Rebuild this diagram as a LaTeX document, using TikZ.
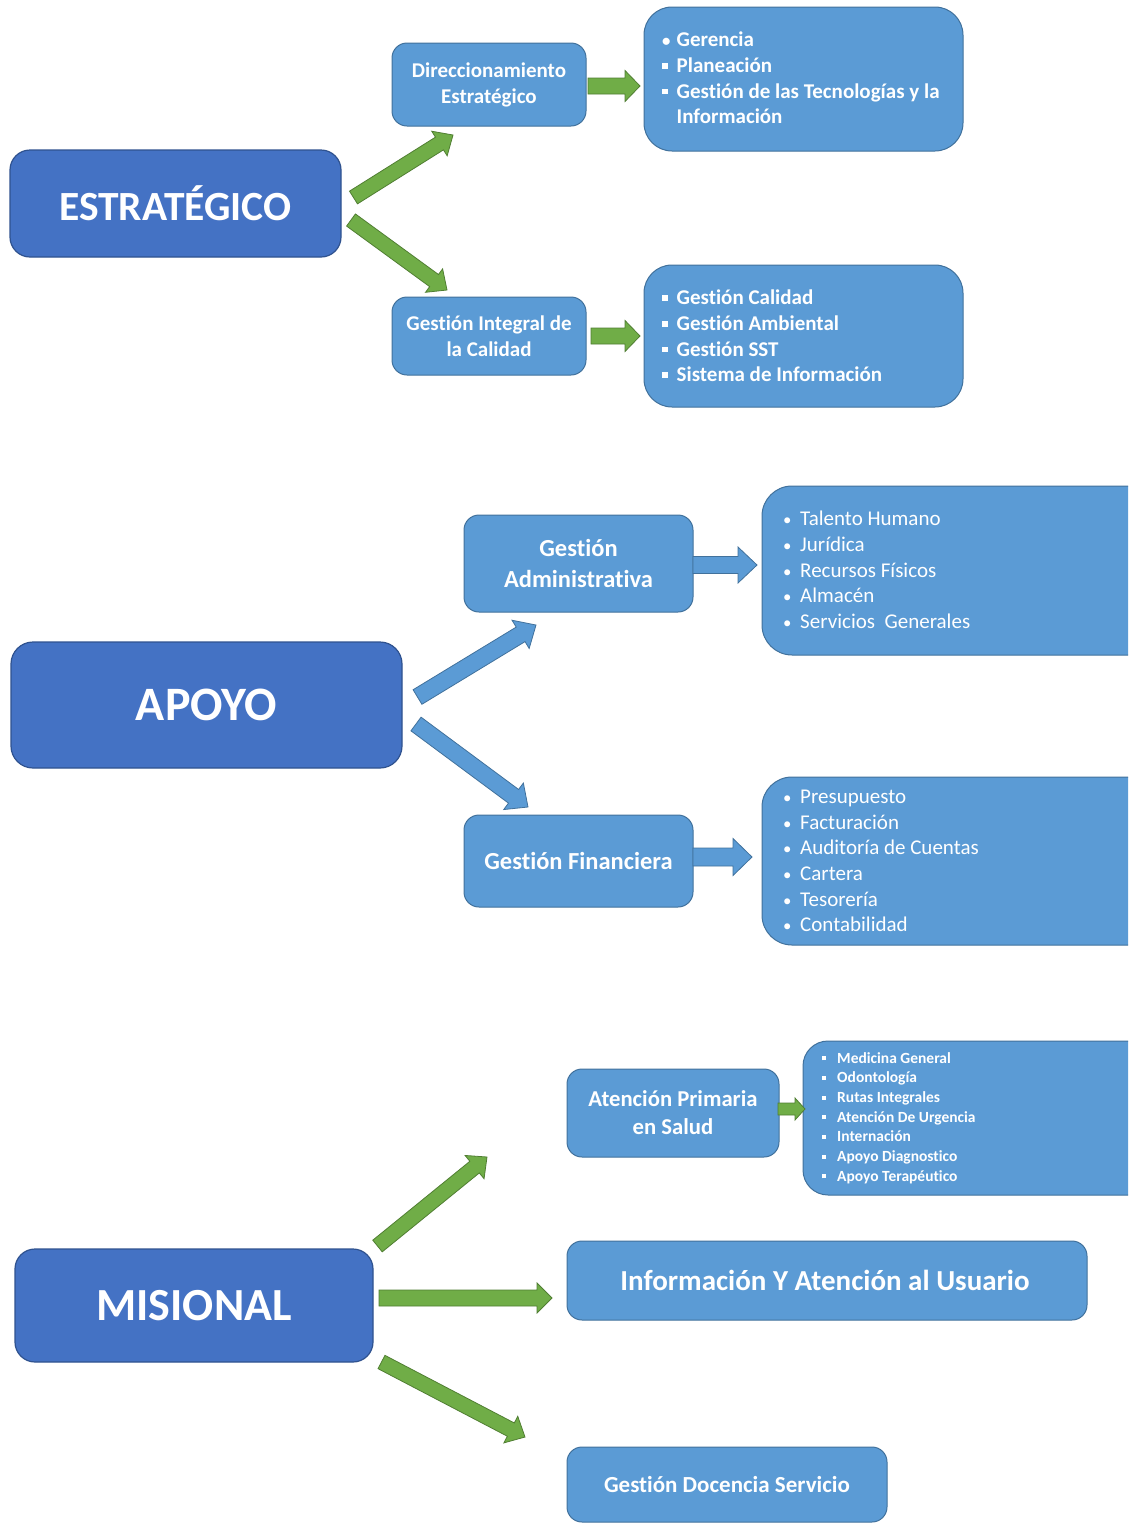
\documentclass[tikz,border=0pt]{standalone}
\usepackage{fontspec}
\usepackage{graphicx}
\setmainfont{Carlito}[Ligatures=NoCommon]
\usetikzlibrary{calc}
\definecolor{dblue}{HTML}{4472C4}
\definecolor{dbord}{HTML}{2F528F}
\definecolor{lblue}{HTML}{5B9BD5}
\definecolor{lbord}{HTML}{41719C}
\definecolor{agreen}{HTML}{70AD47}
\definecolor{gbord}{HTML}{507E32}
% block arrow: #1 start, #2 tip, #3 shaft half width, #4 head half width, #5 head length, #6 style
\newcommand\blockarr[6]{%
  \coordinate (ba-h) at ($(#2)!#5!(#1)$);
  \draw[#6] ($(#1)!#3!90:(#2)$) -- ($(ba-h)!#3!90:(#2)$) -- ($(ba-h)!#4!90:(#2)$) -- (#2)
    -- ($(ba-h)!#4!-90:(#2)$) -- ($(ba-h)!#3!-90:(#2)$) -- ($(#1)!#3!-90:(#2)$) -- cycle;}
\newcommand\rb[1]{\makebox[#1][l]{\scalebox{0.8}{•}}}
\newcommand\sqb[1]{\makebox[#1][l]{\rule[0.18em]{0.27em}{0.27em}}}
\begin{document}
\begin{tikzpicture}[x=1pt,y=-1pt,
  mainbox/.style={draw=dbord, fill=dblue, line width=1.2pt, rounded corners=20pt, text=white, inner sep=0pt},
  subbox/.style={draw=lbord, fill=lblue, line width=1pt, rounded corners=15pt, text=white, align=center, inner sep=0pt},
  listbox/.style={draw=lbord, fill=lblue, line width=1pt, rounded corners=28pt, inner sep=0pt},
  listtext/.style={text=white, align=left, inner sep=0pt, anchor=west},
  greenarr/.style={fill=agreen, draw=gbord, line width=0.8pt},
  bluearr/.style={fill=lblue, draw=lbord, line width=0.8pt}]
\useasboundingbox (0,0) rectangle (1128,1524);
\clip (0,0) rectangle (1128,1524);

% ---------------- ESTRATEGICO ----------------
\node[mainbox, minimum width=331, minimum height=107, font=\bfseries\fontsize{41.5}{49}\selectfont] (est) at (175.5,203.5) {ESTRATÉGICO};
\node[subbox, minimum width=194, minimum height=83, font=\bfseries\fontsize{21}{26}\selectfont] (dir) at (489,84.5) {Direccionamiento\\Estratégico};
\node[listbox, minimum width=319, minimum height=144] (l1) at (803.5,79) {};
\node[listtext, font=\bfseries\fontsize{21}{25.7}\selectfont] (l1t) at (662,78) {\rb{14.5pt}Gerencia\\\sqb{14.5pt}Planeación\\\sqb{14.5pt}Gestión de las Tecnologías y la\\\hspace*{14.5pt}Información};
\node[subbox, minimum width=194, minimum height=78, font=\bfseries\fontsize{21}{26}\selectfont] (gic) at (489,336) {Gestión Integral de\\la Calidad};
\node[listbox, minimum width=319, minimum height=142] (l2) at (803.5,336) {};
\node[listtext, font=\bfseries\fontsize{21}{25.7}\selectfont] (l2t) at (662,336) {\sqb{14.5pt}Gestión Calidad\\\sqb{14.5pt}Gestión Ambiental\\\sqb{14.5pt}Gestión SST\\\sqb{14.5pt}Sistema de Información};

\coordinate (a1s) at (353.5,197.5); \coordinate (a1e) at (453,135);
\coordinate (a2s) at (351,220);     \coordinate (a2e) at (447,290);
\coordinate (a3s) at (588,86);      \coordinate (a3e) at (640,86);
\coordinate (a4s) at (591,336);     \coordinate (a4e) at (640,336);
\blockarr{a1s}{a1e}{7.5pt}{14.5pt}{16pt}{greenarr}
\blockarr{a2s}{a2e}{7.5pt}{14.5pt}{16pt}{greenarr}
\blockarr{a3s}{a3e}{8pt}{15.5pt}{15pt}{greenarr}
\blockarr{a4s}{a4e}{8pt}{15.5pt}{15pt}{greenarr}

% ---------------- APOYO ----------------
\node[mainbox, rounded corners=22pt, minimum width=391, minimum height=126, font=\bfseries\fontsize{48}{57}\selectfont] (apo) at (206.5,705) {APOYO};
\node[subbox, minimum width=229, minimum height=97, font=\bfseries\fontsize{24.5}{31}\selectfont] (gad) at (578.5,563.5) {Gestión\\Administrativa};
\node[listbox, rounded corners=30pt, minimum width=398, minimum height=169] (l3) at (961,570.5) {};
\node[listtext, font=\fontsize{21}{25.75}\selectfont] (l3t) at (783,570) {\rb{17pt}Talento Humano\\\rb{17pt}Jurídica\\\rb{17pt}Recursos Físicos\\\rb{17pt}Almacén\\\rb{17pt}Servicios\ \ Generales};
\node[subbox, minimum width=229, minimum height=92, font=\bfseries\fontsize{24.5}{31}\selectfont] (gfin) at (578.5,861) {Gestión Financiera};
\node[listbox, rounded corners=30pt, minimum width=398, minimum height=168] (l4) at (961,861) {};
\node[listtext, font=\fontsize{21}{25.6}\selectfont] (l4t) at (783,861) {\rb{17pt}Presupuesto\\\rb{17pt}Facturación\\\rb{17pt}Auditoría de Cuentas\\\rb{17pt}Cartera\\\rb{17pt}Tesorería\\\rb{17pt}Contabilidad};

\coordinate (b1s) at (417.5,697); \coordinate (b1e) at (536,625);
\coordinate (b2s) at (416,724);   \coordinate (b2e) at (528,807);
\coordinate (b3s) at (693,565);   \coordinate (b3e) at (757,565);
\coordinate (b4s) at (693,857);   \coordinate (b4e) at (752,857);
\blockarr{b1s}{b1e}{8.5pt}{16.5pt}{18pt}{bluearr}
\blockarr{b2s}{b2e}{8.5pt}{16.5pt}{18pt}{bluearr}
\blockarr{b3s}{b3e}{8.5pt}{18pt}{19pt}{bluearr}
\blockarr{b4s}{b4e}{9pt}{18.5pt}{19pt}{bluearr}

% ---------------- MISIONAL ----------------
\node[mainbox, minimum width=358, minimum height=113, font=\bfseries\fontsize{46}{55}\selectfont] (mis) at (194,1305.5) {MISIONAL};
\node[subbox, minimum width=212, minimum height=88, font=\bfseries\fontsize{22.7}{28}\selectfont] (aps) at (673,1113) {Atención Primaria\\en Salud};
\node[listbox, rounded corners=25pt, minimum width=357, minimum height=154] (l5) at (981.5,1118) {};
\node[listtext, font=\bfseries\fontsize{15.5}{19.67}\selectfont] (l5t) at (822,1118) {\sqb{15pt}Medicina General\\\sqb{15pt}Odontología\\\sqb{15pt}Rutas Integrales\\\sqb{15pt}Atención De Urgencia\\\sqb{15pt}Internación\\\sqb{15pt}Apoyo Diagnostico\\\sqb{15pt}Apoyo Terapéutico};
\node[subbox, minimum width=520, minimum height=79, font=\bfseries\fontsize{29}{35}\selectfont] (iau) at (827,1280.5) {\hspace*{-4pt}Información Y Atención al Usuario};
\node[subbox, minimum width=320, minimum height=75, font=\bfseries\fontsize{23}{28}\selectfont] (gds) at (727,1484.5) {Gestión Docencia Servicio};

\coordinate (c1s) at (377.5,1246); \coordinate (c1e) at (487,1157);
\coordinate (c2s) at (379,1298);   \coordinate (c2e) at (552,1298);
\coordinate (c3s) at (381.5,1362); \coordinate (c3e) at (525,1437);
\coordinate (c4s) at (778,1109);   \coordinate (c4e) at (805,1109);
\blockarr{c1s}{c1e}{7.5pt}{15pt}{16pt}{greenarr}
\blockarr{c2s}{c2e}{8pt}{15pt}{15pt}{greenarr}
\blockarr{c3s}{c3e}{7.5pt}{15pt}{16pt}{greenarr}
\blockarr{c4s}{c4e}{6pt}{11pt}{10pt}{greenarr}
\end{tikzpicture}
\end{document}
